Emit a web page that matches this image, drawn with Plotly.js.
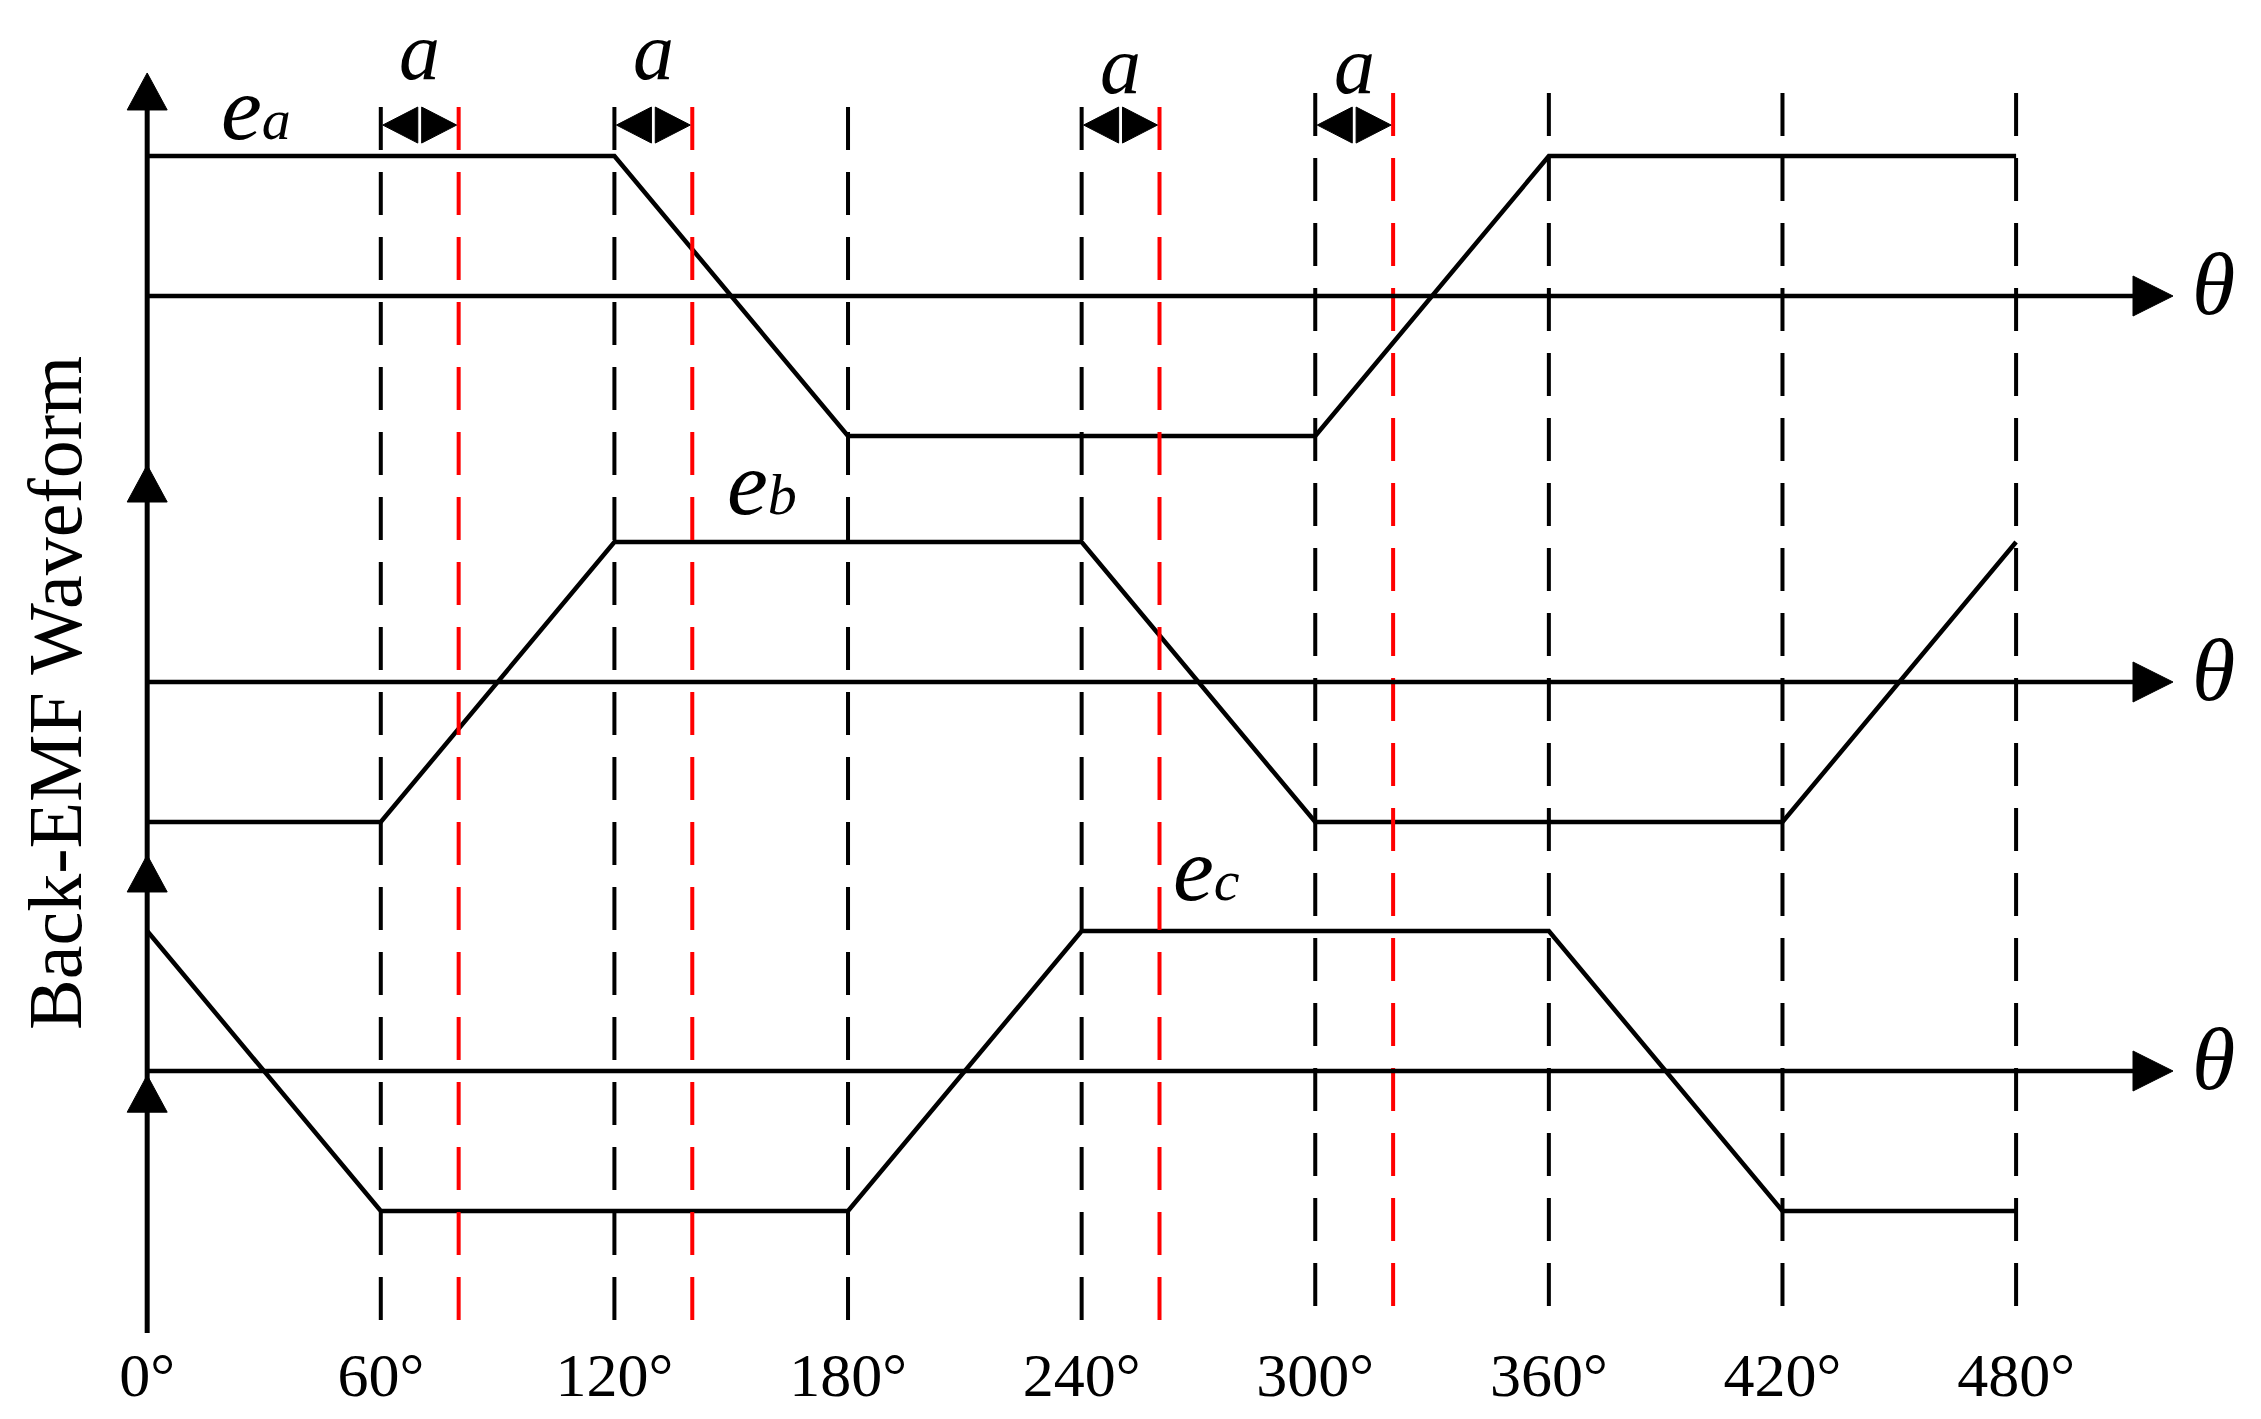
<!DOCTYPE html>
<html>
<head>
<meta charset="utf-8">
<script src="https://cdn.plot.ly/plotly-3.0.1.min.js"></script>
<style>
  html, body { margin: 0; padding: 0; background: #fff; }
  #chart { width: 2261px; height: 1419px; }
</style>
</head>
<body>
<div id="chart"></div>
<script>
// electrical angle breakpoints (deg) and normalised back-EMF level of each phase
var thetaA = [0, 120, 180, 300, 360, 480];
var emfA   = [1, 1, -1, -1, 1, 1];
var thetaB = [0, 60, 120, 240, 300, 420, 480];
var emfB   = [-1, -1, 1, 1, -1, -1, 1];
var thetaC = [0, 60, 180, 240, 360, 420, 480];
var emfC   = [1, -1, -1, 1, 1, -1, -1];

var tickVals = [0, 60, 120, 180, 240, 300, 360, 420, 480];
var tickText = ['0°', '60°', '120°', '180°', '240°', '300°', '360°', '420°', '480°'];

// black dashed = commutation points, red dashed = commutation shifted by a
var commutation = [60, 120, 180, 240, 300, 360, 420, 480];
var shifted = [80, 140, 260, 320];
var alphaFrom = [60, 120, 240, 300];
var alphaTo = [80, 140, 260, 320];

var W = 2261, H = 1419;
var FONT = '"Times New Roman", "Liberation Serif", serif';
var UNIT = 140;                                   // px per unit of back-EMF
function py(px) { return 1 - px / H; }            // paper y from px measured from top
var thetaEnd = 520.3;

function wave(x, y, yax) {
  return { x: x, y: y, yaxis: yax, type: 'scatter', mode: 'lines',
           line: { color: '#000', width: 4.5 }, hoverinfo: 'skip' };
}
var data = [wave(thetaA, emfA, 'y3'), wave(thetaB, emfB, 'y2'), wave(thetaC, emfC, 'y')];

var shapes = [];
function guide(x, color) {
  var late = x >= 300;
  shapes.push({ type: 'line', xref: 'x', yref: 'paper', x0: x, x1: x,
    y0: py(late ? 93 : 107), y1: py(late ? 1322 : 1335),
    line: { color: color, width: 4, dash: '43px,22px' } });
}
commutation.forEach(function (x) { guide(x, '#000'); });
shifted.forEach(function (x) { guide(x, '#ff0000'); });

function head(x, ya, y, path) {
  shapes.push({ type: 'path', xref: 'x', yref: ya, xsizemode: 'pixel', ysizemode: 'pixel',
    xanchor: x, yanchor: y, path: path, fillcolor: '#000', line: { color: '#000', width: 1 } });
}

// vertical axis with arrow heads
shapes.push({ type: 'line', xref: 'x', yref: 'paper', x0: 0, x1: 0, y0: py(1333), y1: py(90),
  line: { color: '#000', width: 5 } });
[['y3', 1.593], ['y2', 1.55], ['y', 1.543], ['y', -0.03]].forEach(function (a) {
  head(0, a[0], a[1], 'M0,0 L-20,-37 L20,-37 Z');
});
// theta axes
['y3', 'y2', 'y'].forEach(function (ya) {
  shapes.push({ type: 'line', xref: 'x', yref: ya, x0: 0, x1: thetaEnd - 6, y0: 0, y1: 0,
    line: { color: '#000', width: 4.5 } });
  head(thetaEnd, ya, 0, 'M0,0 L-40,20 L-40,-20 Z');
});

// double arrows marking the shift a
alphaFrom.forEach(function (x0, i) {
  head(x0, 'y3', 1.221, 'M2,0 L37,18 L37,-18 Z');
  head(alphaTo[i], 'y3', 1.221, 'M-2,0 L-37,18 L-37,-18 Z');
});

var annotations = [];
function label(x, y, ya, text, size) {
  annotations.push({ xref: 'x', yref: ya, x: x, y: y, text: text, showarrow: false,
    xanchor: 'center', yanchor: 'middle', font: { family: FONT, size: size, color: '#000' } });
}
label(28, 1.34, 'y3', '<i>e<span style="font-size:58px">a</span></i>', 92);
label(158, 1.42, 'y2', '<i>e<span style="font-size:58px">b</span></i>', 92);
label(272, 1.44, 'y', '<i>e<span style="font-size:58px">c</span></i>', 92);
['y3', 'y2', 'y'].forEach(function (ya) { label(530.8, 0.08, ya, '<i>θ</i>', 88); });
alphaFrom.forEach(function (x0, i) {
  label((x0 + alphaTo[i]) / 2, i < 2 ? 1.743 : 1.643, 'y3', '<i>a</i>', 82);
});

annotations.push({ xref: 'paper', yref: 'paper', x: 55 / W, y: py(693), textangle: -90,
  text: 'Back-EMF Waveform', showarrow: false, xanchor: 'center', yanchor: 'middle',
  font: { family: FONT, size: 76, color: '#000' } });

// each phase gets its own y axis centred on its theta axis (px from top)
function yax(c, half) {
  return { domain: [py(c + half), py(c - half)], range: [-half / UNIT, half / UNIT],
           visible: false, fixedrange: true };
}

var layout = {
  width: W, height: H,
  margin: { l: 0, r: 0, t: 0, b: 0 },
  paper_bgcolor: '#fff', plot_bgcolor: 'rgba(0,0,0,0)',
  showlegend: false,
  xaxis: { range: [-37.8, 542.9], anchor: 'free', position: py(1333), side: 'bottom',
           showgrid: false, zeroline: false, showline: false, ticks: '',
           tickmode: 'array', tickvals: tickVals, ticktext: tickText,
           tickfont: { family: FONT, size: 62, color: '#000' } },
  yaxis: yax(1071, 240),
  yaxis2: yax(682, 240),
  yaxis3: yax(296, 296),
  shapes: shapes,
  annotations: annotations
};

Plotly.newPlot('chart', data, layout, { staticPlot: true, displayModeBar: false });
</script>
</body>
</html>
